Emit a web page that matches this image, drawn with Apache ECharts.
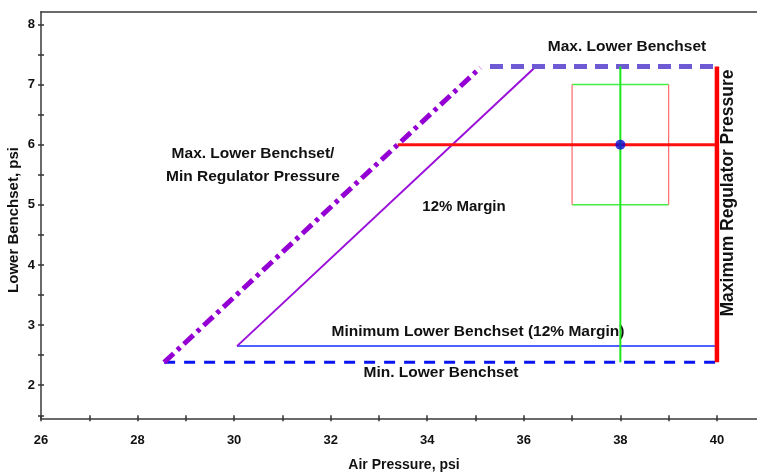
<!DOCTYPE html>
<html>
<head>
<meta charset="utf-8">
<script src="https://cdn.jsdelivr.net/npm/echarts@6/dist/echarts.min.js"></script>
<style>
html,body{margin:0;padding:0;background:#fff;}
#chart{width:757px;height:473px;}
</style>
</head>
<body>
<div id="chart"></div>
<script>
// ---- data ----
var xTickValues = [26,27,28,29,30,31,32,33,34,35,36,37,38,39,40];
var xLabelValues = [26,28,30,32,34,36,38,40];
var yTickValues = [1.5,2,2.5,3,3.5,4,4.5,5,5.5,6,6.5,7,7.5,8];
var yLabelValues = [2,3,4,5,6,7,8];

var maxLowerMinReg = [[28.55, 2.38], [35.1, 7.28]];
var maxLowerBenchset = [[35.3, 7.3], [40, 7.3]];
var marginLine = [[30.06, 2.65], [36.25, 7.3]];
var minLowerMargin = [[30.06, 2.65], [40, 2.65]];
var minLowerBenchset = [[28.55, 2.38], [40, 2.38]];
var maxRegulator = [[40, 2.38], [40, 7.3]];
var setPointH = [[33.39, 6], [40, 6]];
var setPointV = [[38, 2.38], [38, 7.3]];
var boxTop = [[37, 7], [39, 7]];
var boxBottom = [[37, 5], [39, 5]];
var boxLeft = [[37, 5], [37, 7]];
var boxRight = [[39, 5], [39, 7]];
var operatingPoint = [[38, 6]];

var FONT = '"Liberation Sans", Arial, sans-serif';

function lineSeries(data, color, width, type, z) {
  return {
    type: 'line', data: data, xAxisIndex: 0, yAxisIndex: 0,
    showSymbol: false, symbol: 'none', silent: true, z: z || 2,
    lineStyle: { color: color, width: width, type: type || 'solid', cap: 'butt' }
  };
}

var chart = echarts.init(document.getElementById('chart'), null, { renderer: 'canvas' });
var axisLineStyle = { color: '#3a3a3a', width: 1.5 };
var xRange = { min: 26, max: 40.83 };
var yRange = { min: 1.45, max: 8.21 };

var option = {
  animation: false,
  backgroundColor: '#ffffff',
  grid: { left: 41, right: 0, top: 11.7, bottom: 54.7, containLabel: false },
  xAxis: [
    {
      type: 'value', position: 'bottom', min: xRange.min, max: xRange.max,
      axisLine: { show: true, onZero: false, lineStyle: axisLineStyle },
      axisTick: { show: true, inside: false, length: 3, customValues: xTickValues, lineStyle: { color: '#333', width: 1.5 } },
      axisLabel: { show: true, customValues: xLabelValues, margin: 16, color: '#111', fontFamily: FONT, fontWeight: 'bold', fontSize: 13 },
      splitLine: { show: false }
    },
    {
      type: 'value', position: 'bottom', min: xRange.min, max: xRange.max,
      axisLine: { show: false, onZero: false },
      axisTick: { show: true, inside: true, length: 3, customValues: xTickValues, lineStyle: { color: '#333', width: 1.5 } },
      axisLabel: { show: false },
      splitLine: { show: false }
    },
    {
      type: 'value', position: 'top', min: xRange.min, max: xRange.max,
      axisLine: { show: true, onZero: false, lineStyle: axisLineStyle },
      axisTick: { show: false }, axisLabel: { show: false }, splitLine: { show: false }
    }
  ],
  yAxis: [
    {
      type: 'value', position: 'left', min: yRange.min, max: yRange.max,
      axisLine: { show: true, onZero: false, lineStyle: axisLineStyle },
      axisTick: { show: true, inside: false, length: 3, customValues: yTickValues, lineStyle: { color: '#333', width: 1.5 } },
      axisLabel: { show: true, customValues: yLabelValues, margin: 6, color: '#111', fontFamily: FONT, fontWeight: 'bold', fontSize: 13 },
      splitLine: { show: false }
    },
    {
      type: 'value', position: 'left', min: yRange.min, max: yRange.max,
      axisLine: { show: false, onZero: false },
      axisTick: { show: true, inside: true, length: 3, customValues: yTickValues, lineStyle: { color: '#333', width: 1.5 } },
      axisLabel: { show: false },
      splitLine: { show: false }
    }
  ],
  series: [
    lineSeries(minLowerBenchset, '#0a14f0', 3, [11, 9], 2),
    lineSeries(minLowerMargin, '#1a2cff', 1.5, 'solid', 2),
    lineSeries(marginLine, '#9a10d8', 2, 'solid', 2),
    lineSeries(maxLowerMinReg, '#9400d3', 5, [13, 5, 4, 5], 3),
    lineSeries(maxLowerBenchset, '#6e5ad2', 5, [13, 8], 3),
    lineSeries(boxTop, '#44ee44', 1.5, 'solid', 2),
    lineSeries(boxBottom, '#44ee44', 1.5, 'solid', 2),
    lineSeries(boxLeft, '#ff6a6a', 1.2, 'solid', 2),
    lineSeries(boxRight, '#ff6a6a', 1.2, 'solid', 2),
    lineSeries(setPointH, '#ff1010', 3, 'solid', 3),
    lineSeries(setPointV, '#1ae61a', 2, 'solid', 4),
    lineSeries(maxRegulator, '#ff0000', 4.5, 'solid', 5),
    {
      type: 'scatter', data: operatingPoint, xAxisIndex: 0, yAxisIndex: 0,
      symbol: 'circle', symbolSize: 10, silent: true, z: 6,
      itemStyle: { color: '#0a0ad8' }
    }
  ],
  graphic: [
    { type: 'text', x: 627, y: 47, style: { text: 'Max. Lower Benchset', fill: '#111', font: 'bold 15.5px ' + FONT, textAlign: 'center', textVerticalAlign: 'middle' } },
    { type: 'text', x: 253, y: 165.5, style: { text: 'Max. Lower Benchset/\nMin Regulator Pressure', fill: '#111', font: 'bold 15.5px ' + FONT, textAlign: 'center', textVerticalAlign: 'middle', lineHeight: 23 } },
    { type: 'text', x: 464, y: 207, style: { text: '12% Margin', fill: '#111', font: 'bold 15px ' + FONT, textAlign: 'center', textVerticalAlign: 'middle' } },
    { type: 'text', x: 478, y: 332, style: { text: 'Minimum Lower Benchset (12% Margin)', fill: '#111', font: 'bold 15.5px ' + FONT, textAlign: 'center', textVerticalAlign: 'middle' } },
    { type: 'text', x: 441, y: 373, style: { text: 'Min. Lower Benchset', fill: '#111', font: 'bold 15.5px ' + FONT, textAlign: 'center', textVerticalAlign: 'middle' } },
    { type: 'text', x: 728, y: 193, rotation: Math.PI / 2, style: { text: 'Maximum Regulator Pressure', fill: '#111', font: 'bold 17.5px ' + FONT, textAlign: 'center', textVerticalAlign: 'middle' } },
    { type: 'text', x: 404, y: 465, style: { text: 'Air Pressure, psi', fill: '#111', font: 'bold 14px ' + FONT, textAlign: 'center', textVerticalAlign: 'middle' } },
    { type: 'text', x: 14, y: 220, rotation: Math.PI / 2, style: { text: 'Lower Benchset, psi', fill: '#111', font: 'bold 15px ' + FONT, textAlign: 'center', textVerticalAlign: 'middle' } }
  ]
};
chart.setOption(option);
</script>
</body>
</html>
